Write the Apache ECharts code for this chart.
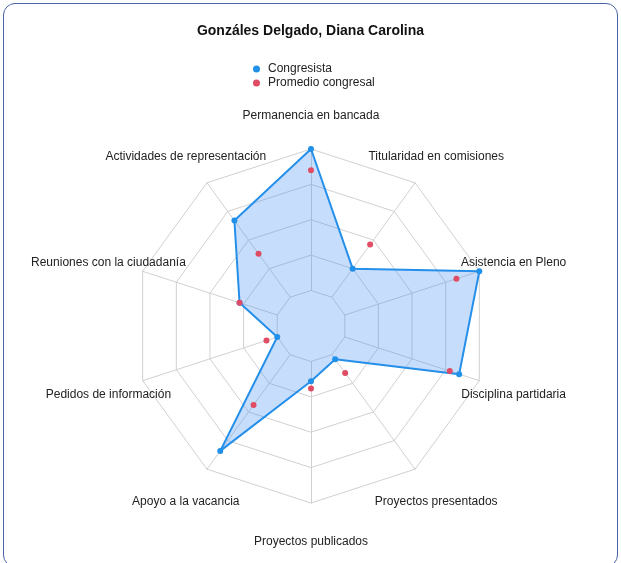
<!DOCTYPE html>
<html>
<head>
<meta charset="utf-8">
<script src="https://cdn.jsdelivr.net/npm/echarts@6/dist/echarts.min.js"></script>
<style>
body { margin: 0; background: #fff; }
#chart { position: absolute; left: 0; top: 0; width: 621px; height: 563px; }
#frame { position: absolute; left: 3px; top: 3px; width: 613px; height: 562px; border: 1.6px solid #4863a8; border-radius: 12px; pointer-events: none; }
</style>
</head>
<body>
<div id="chart"></div>
<div id="frame"></div>
<script>
// indicadores en sentido horario desde arriba
var indicadores = ['Permanencia en bancada', 'Titularidad en comisiones', 'Asistencia en Pleno',
    'Disciplina partidaria', 'Proyectos presentados', 'Proyectos publicados', 'Apoyo a la vacancia',
    'Pedidos de información', 'Reuniones con la ciudadanía', 'Actividades de representación'];
var congresista = [100, 25, 100, 85, 4, 14, 84, 0, 28, 67];
var promedio = [85, 46, 83, 78, 16, 19, 44, 8, 28, 38];
var series_names = ['Congresista', 'Promedio congresal'];

// echarts recorre el radar en sentido antihorario, asi que se invierte el orden (menos el primero)
function horario(arr) {
    return [arr[0]].concat(arr.slice(1).reverse());
}

var dom = document.getElementById('chart');
var myChart = echarts.init(dom, null, { renderer: 'canvas' });

var option = {
    animation: false,
    title: {
        text: 'Gonzáles Delgado, Diana Carolina',
        left: 'center',
        top: 19,
        textStyle: { fontFamily: 'Liberation Sans, Arial', fontSize: 14, fontWeight: 'bold', color: '#111' }
    },
    legend: {
        orient: 'vertical',
        left: 248,
        top: 58,
        icon: 'circle',
        itemWidth: 13,
        itemHeight: 7,
        itemGap: 2,
        data: series_names,
        textStyle: { fontFamily: 'Liberation Sans, Arial', fontSize: 12, color: '#222' }
    },
    radar: {
        center: [311, 326],
        radius: [35.5, 177],
        startAngle: 90,
        splitNumber: 4,
        shape: 'polygon',
        axisNameGap: 36,
        axisName: {
            color: '#222',
            fontFamily: 'Liberation Sans, Arial',
            fontSize: 12,
            align: 'center',
            verticalAlign: 'middle',
            formatter: function (name) { return '{n|' + name + '}'; },
            rich: {
                n: { color: '#222', fontFamily: 'Liberation Sans, Arial', fontSize: 12, padding: [6, 0, 0, 0] }
            }
        },
        axisLine: { lineStyle: { color: '#d0d0d0', width: 1 } },
        splitLine: { lineStyle: { color: '#d0d0d0', width: 1 } },
        splitArea: { show: false },
        indicator: horario(indicadores).map(function (n) { return { name: n, min: 0, max: 100 }; })
    },
    series: [{
        type: 'radar',
        data: [{
            name: series_names[0],
            value: horario(congresista),
            symbol: 'circle',
            symbolSize: 6,
            itemStyle: { color: '#2190e8' },
            lineStyle: { color: '#2190e8', width: 2 },
            areaStyle: { color: 'rgba(60, 140, 245, 0.42)' }
        }, {
            name: series_names[1],
            value: horario(promedio),
            symbol: 'circle',
            symbolSize: 6,
            itemStyle: { color: '#e04c64' },
            lineStyle: { width: 0, opacity: 0 }
        }]
    }]
};

myChart.setOption(option);
</script>
</body>
</html>
